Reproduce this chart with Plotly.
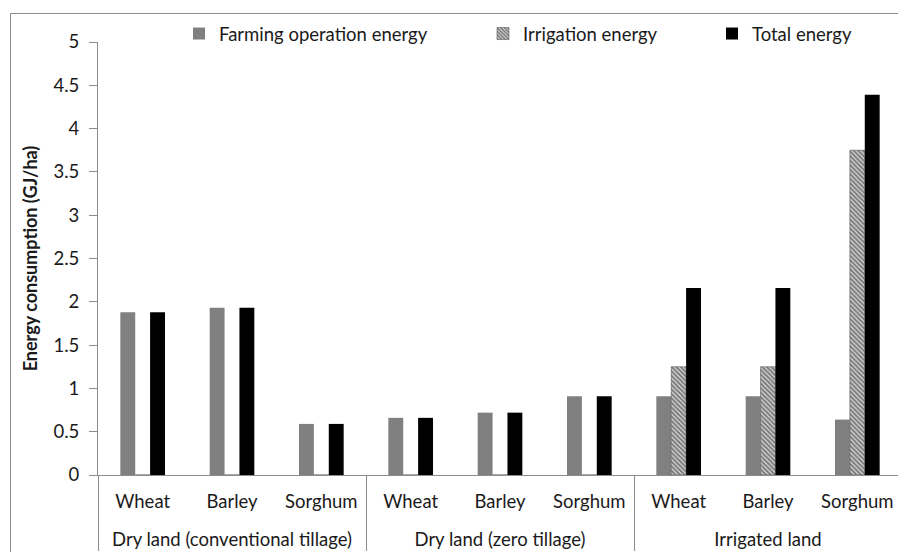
import plotly.graph_objects as go

groups = ["Dry land (conventional tillage)"] * 3 + ["Dry land (zero tillage)"] * 3 + ["Irrigated land"] * 3
crops = ["Wheat", "Barley", "Sorghum"] * 3

farming = [1.88, 1.93, 0.59, 0.66, 0.72, 0.91, 0.91, 0.91, 0.64]
irrigation = [0, 0, 0, 0, 0, 0, 1.25, 1.25, 3.75]
total = [1.88, 1.93, 0.59, 0.66, 0.72, 0.91, 2.16, 2.16, 4.39]

FONT = "Lato"
TXT = "#1a1a1a"
LINE = "#8c8c8c"
FS = 18.5

# the page body adds an 8px offset; figure is sized so it fits the window
W, H = 898, 544
L, R, T, B = 90, 4, 34, 77
pw = W - L - R
ph = H - T - B


def px2x(p):
    return (p - L) / pw


def py2y(p):
    return (H - B - p) / ph


group_labels = ["<br>" + g for g in groups]
xcats = [group_labels, crops]

fig = go.Figure()
fig.add_trace(go.Bar(
    x=xcats, y=farming, name="Farming operation energy",
    marker=dict(color="#808080", line=dict(width=0)), legend="legend",
))
fig.add_trace(go.Bar(
    x=xcats, y=irrigation, name="Irrigation energy",
    marker=dict(color="#ffffff", line=dict(width=0.6, color="#555555"),
                pattern=dict(shape="\\", fgcolor="#000000", bgcolor="#ffffff", size=3.2, solidity=0.75)),
    legend="legend2",
))
fig.add_trace(go.Bar(
    x=xcats, y=total, name="Total energy",
    marker=dict(color="#000000", line=dict(width=0)), legend="legend3",
))

legend_common = dict(orientation="h", yref="container", yanchor="middle", y=(H - 26) / H,
                     xanchor="left",
                     font=dict(family=FONT, size=FS, color=TXT), bgcolor="rgba(0,0,0,0)",
                     itemwidth=30, tracegroupgap=0)

fig.update_layout(
    width=W, height=H,
    margin=dict(l=L, r=R, t=T, b=B, pad=0, autoexpand=False),
    paper_bgcolor="white", plot_bgcolor="white",
    barmode="group", bargap=0.5, bargroupgap=0,
    font=dict(family=FONT, size=FS, color=TXT),
    showlegend=True,
    legend=dict(legend_common, x=px2x(171)),
    legend2=dict(legend_common, x=px2x(475)),
    legend3=dict(legend_common, x=px2x(704)),
    xaxis=dict(
        type="multicategory", showline=True, linecolor=LINE, linewidth=1,
        showdividers=True, dividercolor=LINE, dividerwidth=1, automargin=False,
        ticks="", showgrid=False, tickfont=dict(family=FONT, size=FS, color=TXT),
        ticklabelstandoff=10,
    ),
    yaxis=dict(
        range=[0, 5], dtick=0.5, tick0=0, showgrid=False, zeroline=False, automargin=False,
        showline=True, linecolor=LINE, linewidth=1, ticks="outside", ticklen=8,
        tickcolor=LINE, tickfont=dict(family=FONT, size=FS, color=TXT), ticklabelstandoff=6,
        title=dict(text="<b>Energy consumption (GJ/ha)</b>", font=dict(family=FONT, size=18, color=TXT), standoff=11),
    ),
    shapes=[dict(type="rect", xref="paper", yref="paper",
                 x0=px2x(2.5), x1=px2x(910), y0=py2y(5.5), y1=py2y(570),
                 line=dict(color=LINE, width=1), fillcolor="rgba(0,0,0,0)", layer="below")],
)

fig.write_html("out.html")
